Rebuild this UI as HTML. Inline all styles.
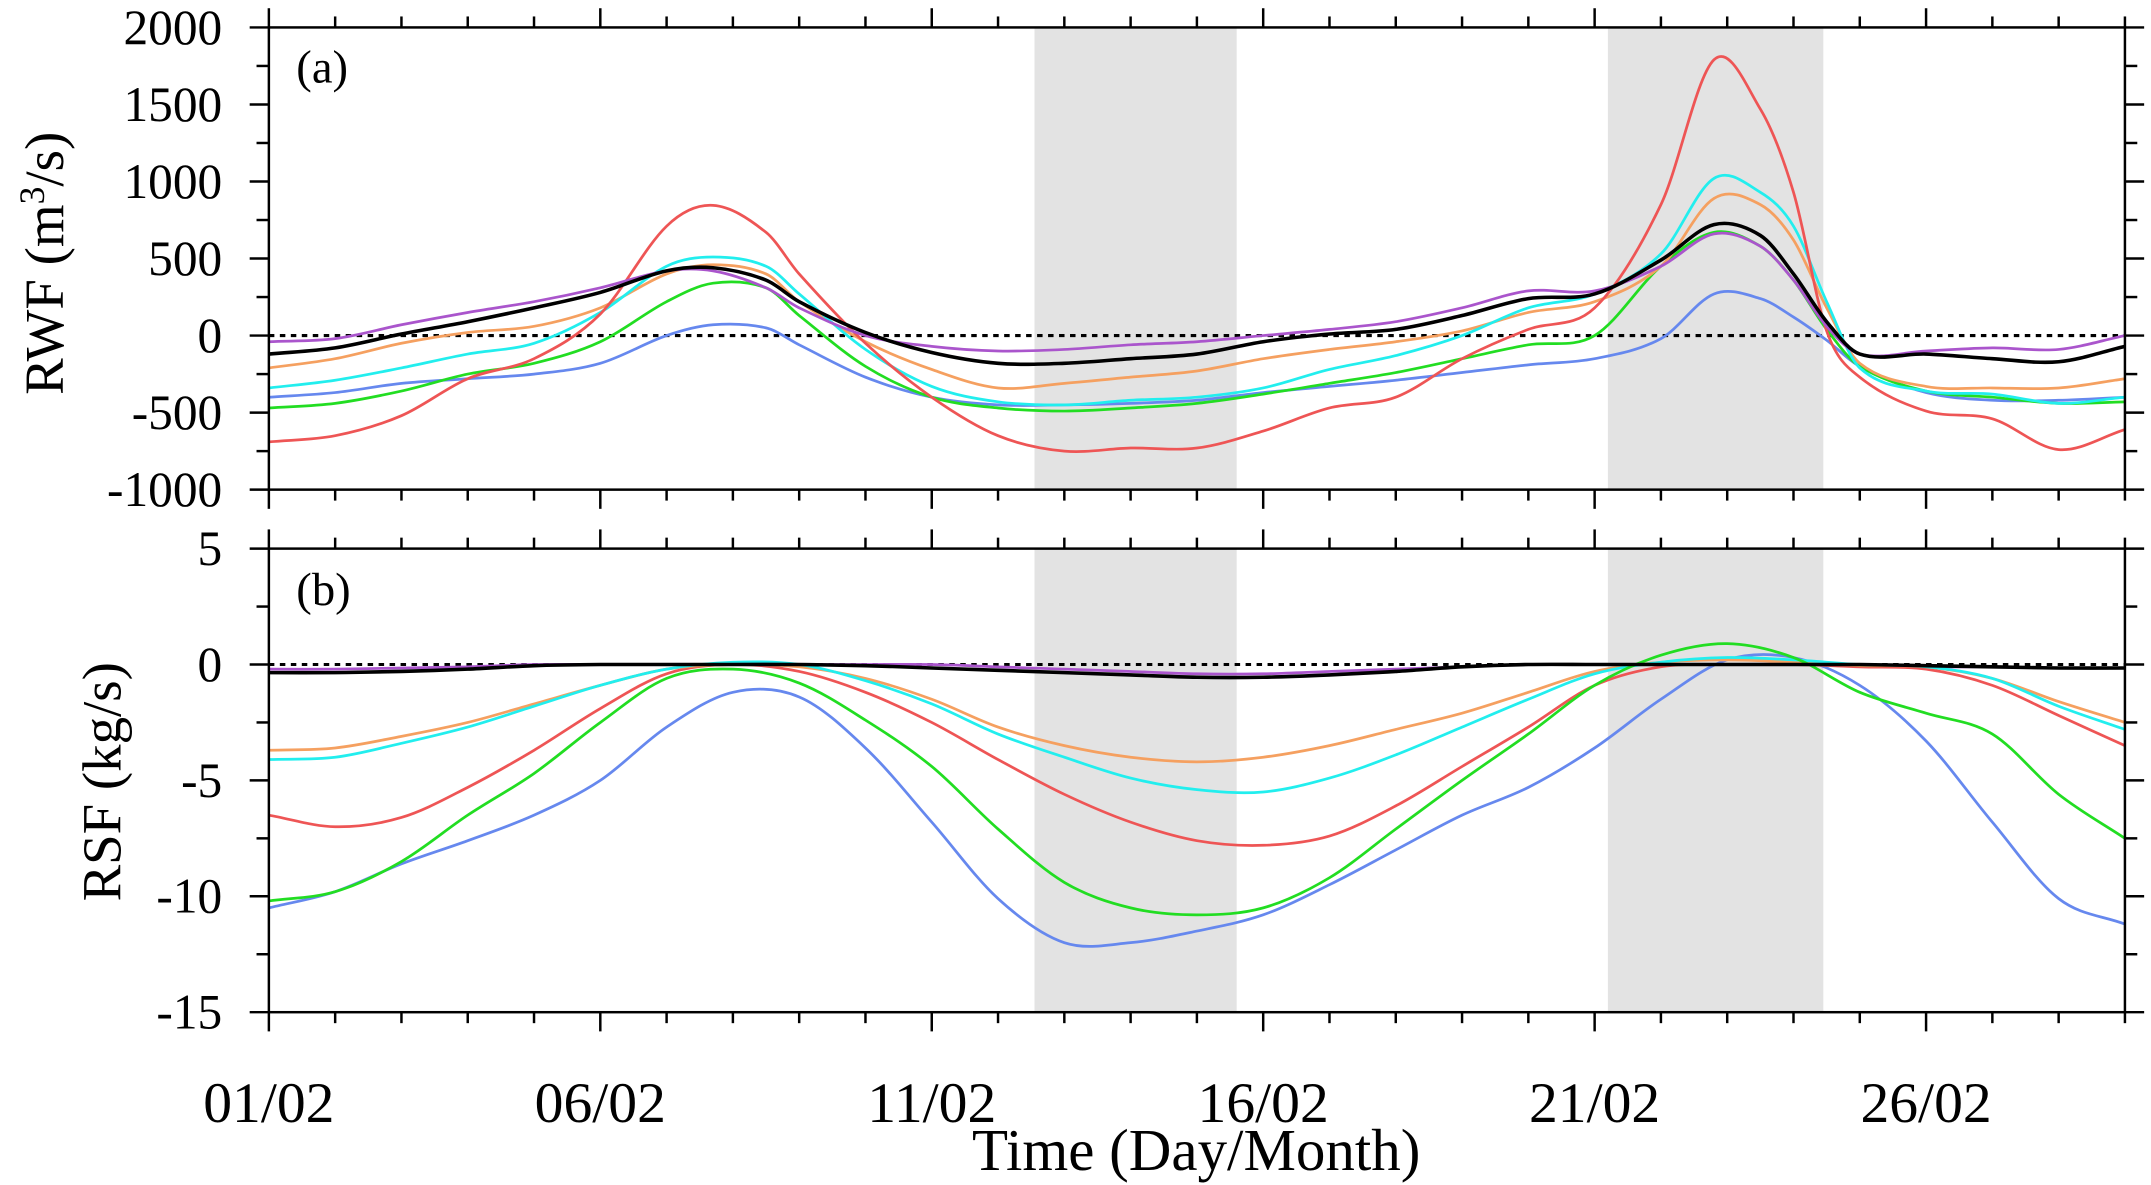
<!DOCTYPE html>
<html><head><meta charset="utf-8"><style>
html,body{margin:0;padding:0;background:#fff;}
svg{display:block;}
text{font-family:"Liberation Serif",serif;fill:#000;}
</style></head><body>
<svg id="chart" width="2151" height="1185" viewBox="0 0 1568 864" preserveAspectRatio="none" xmlns="http://www.w3.org/2000/svg">
<g id="shade"></g>
<g id="series"></g>
<g id="axes"></g>
<g id="labels"></g>
</svg>
<script>
const daysA=[0,1,2,3,4,5,6,6.7,7.5,8,9,10,11,12,13,14,15,16,17,18,19,20,21,21.8,22.5,23,23.5,24,25,26,27,28];
const rwfRed=[-690,-650,-520,-280,-150,140,710,845,670,400,-50,-400,-650,-750,-730,-730,-620,-470,-400,-150,40,180,850,1790,1470,930,30,-270,-490,-540,-740,-610];
const rwfOrange=[-210,-150,-50,20,60,180,400,460,400,220,-40,-220,-340,-310,-270,-230,-150,-90,-40,30,150,220,450,890,850,620,180,-180,-330,-340,-340,-280];
const rwfCyan=[-340,-290,-210,-120,-50,150,450,510,450,270,-90,-330,-430,-450,-420,-400,-340,-220,-130,0,180,270,530,1020,930,710,220,-210,-360,-380,-440,-400];
const rwfGreen=[-470,-440,-360,-250,-180,-40,220,340,310,130,-200,-400,-470,-490,-470,-440,-380,-310,-240,-150,-60,0,450,670,580,360,40,-200,-360,-400,-440,-430];
const rwfBlue=[-400,-370,-310,-280,-250,-180,0,70,50,-60,-270,-400,-450,-450,-440,-420,-370,-330,-290,-240,-190,-150,-20,270,240,120,-30,-200,-370,-420,-420,-400];
const rwfPurple=[-40,-20,70,150,220,310,420,420,310,180,0,-70,-100,-90,-60,-40,0,40,90,180,290,290,450,660,580,360,60,-120,-100,-80,-90,0];
const rwfBlack=[-120,-80,10,90,180,280,420,440,360,220,20,-110,-180,-180,-150,-120,-40,10,40,130,240,270,490,720,650,400,90,-120,-120,-150,-170,-70];

const daysB=[0,1,2,3,4,5,6,7,8,9,10,11,12,13,14,15,16,17,18,19,20,21,22,23,24,25,26,27,28];
const rsfRed=[-6.5,-7.0,-6.6,-5.3,-3.7,-1.9,-0.4,0,-0.3,-1.2,-2.5,-4.1,-5.6,-6.8,-7.6,-7.8,-7.4,-6.1,-4.4,-2.7,-0.9,-0.1,0,0,-0.1,-0.2,-0.9,-2.2,-3.5];
const rsfOrange=[-3.7,-3.6,-3.1,-2.5,-1.7,-0.9,-0.2,0,-0.1,-0.6,-1.5,-2.7,-3.5,-4.0,-4.2,-4.0,-3.5,-2.8,-2.1,-1.2,-0.3,0.1,0.2,0.1,-0.05,-0.1,-0.6,-1.6,-2.5];
const rsfCyan=[-4.1,-4.0,-3.4,-2.7,-1.8,-0.9,-0.2,0.1,0,-0.7,-1.7,-3.0,-4.0,-4.9,-5.4,-5.5,-4.9,-3.9,-2.7,-1.5,-0.4,0.1,0.3,0.2,0,-0.1,-0.6,-1.8,-2.8];
const rsfGreen=[-10.2,-9.8,-8.5,-6.5,-4.7,-2.5,-0.6,-0.2,-0.8,-2.4,-4.4,-7.1,-9.4,-10.5,-10.8,-10.5,-9.2,-7.1,-5.0,-3.0,-0.9,0.4,0.9,0.3,-1.2,-2.1,-3.0,-5.6,-7.5];
const rsfBlue=[-10.5,-9.8,-8.6,-7.6,-6.5,-5.0,-2.7,-1.2,-1.4,-3.6,-6.8,-10.1,-12.0,-12.0,-11.5,-10.8,-9.5,-8.0,-6.5,-5.3,-3.6,-1.5,0.2,0.3,-0.9,-3.3,-6.8,-10.1,-11.2];
const rsfPurple=[-0.2,-0.2,-0.15,-0.1,0,0,0,0,0,0,0,-0.1,-0.2,-0.3,-0.4,-0.4,-0.3,-0.2,-0.1,0,0,0,0,0,0,-0.1,-0.1,-0.15,-0.15];
const rsfBlack=[-0.35,-0.35,-0.3,-0.2,-0.05,0,0,0,0,-0.05,-0.15,-0.25,-0.35,-0.45,-0.55,-0.55,-0.45,-0.3,-0.1,0,0,0,0,0,0,-0.05,-0.1,-0.15,-0.15];

const shadeRanges=[[11.55,14.6],[20.2,23.45]];
const xTickLabels=["01/02","06/02","11/02","16/02","21/02","26/02"];
const yTicksA=[2000,1500,1000,500,0,-500,-1000];
const yTicksB=[5,0,-5,-10,-15];

const NS="http://www.w3.org/2000/svg";
const X0=196,X1=1549,DMAX=28;
const A={top:20,bot:357,min:-1000,max:2000,minor:250};
const B={top:400,bot:738,min:-15,max:5,minor:2.5};
function xs(d){return X0+(X1-X0)*d/DMAX;}
function ys(p,v){return p.bot-(v-p.min)/(p.max-p.min)*(p.bot-p.top);}
function mk(tag,attrs,parent){const e=document.createElementNS(NS,tag);for(const k in attrs)e.setAttribute(k,attrs[k]);parent.appendChild(e);return e;}
function smooth(pts){const n=pts.length,m=[];
 for(let i=0;i<n;i++){const a=pts[Math.max(0,i-1)],b=pts[Math.min(n-1,i+1)];m.push((b[1]-a[1])/(b[0]-a[0]));}
 let d="M"+pts[0][0].toFixed(2)+","+pts[0][1].toFixed(2);
 for(let i=0;i<n-1;i++){const p1=pts[i],p2=pts[i+1],dx=p2[0]-p1[0];
  d+="C"+(p1[0]+dx/3).toFixed(2)+","+(p1[1]+m[i]*dx/3).toFixed(2)+" "+(p2[0]-dx/3).toFixed(2)+","+(p2[1]-m[i+1]*dx/3).toFixed(2)+" "+p2[0].toFixed(2)+","+p2[1].toFixed(2);}
 return d;}
const gS=document.getElementById('shade'),gL=document.getElementById('series'),gA=document.getElementById('axes'),gT=document.getElementById('labels');
[A,B].forEach((p,pi)=>{shadeRanges.forEach((r,ri)=>{
 const el=mk('rect',{x:xs(r[0]),y:p.top,width:xs(r[1])-xs(r[0]),height:p.bot-p.top,fill:'#e3e3e3'},gS);
 
 
});});
[A,B].forEach((p,pi)=>{const el=mk('line',{x1:X0,x2:X1,y1:ys(p,0),y2:ys(p,0),stroke:'#000','stroke-width':2.2,'stroke-dasharray':'4 4'},gL);
 
 });
const cols={red:'#ee5555',orange:'#f5a060',cyan:'#22eeee',green:'#22dd22',blue:'#6688ee',purple:'#aa55cc',black:'#000'};
const seriesA=[['blue',rwfBlue],['green',rwfGreen],['orange',rwfOrange],['cyan',rwfCyan],['red',rwfRed],['purple',rwfPurple],['black',rwfBlack]];
const seriesB=[['purple',rsfPurple],['blue',rsfBlue],['red',rsfRed],['orange',rsfOrange],['cyan',rsfCyan],['green',rsfGreen],['black',rsfBlack]];
seriesA.forEach(s=>{const el=mk('path',{d:smooth(daysA.map((d,i)=>[xs(d),ys(A,s[1][i])])),fill:'none',stroke:cols[s[0]],'stroke-width':s[0]=='black'?2.6:2},gL);
 
 });
seriesB.forEach(s=>{const el=mk('path',{d:smooth(daysB.map((d,i)=>[xs(d),ys(B,s[1][i])])),fill:'none',stroke:cols[s[0]],'stroke-width':s[0]=='black'?2.6:2},gL);
 
 });
[A,B].forEach((p,pi)=>{
 const fr=mk('rect',{x:X0,y:p.top,width:X1-X0,height:p.bot-p.top,fill:'none',stroke:'#000','stroke-width':1.8},gA);
 
 
 for(let d=0;d<=DMAX;d++){const maj=d%5==0,L=maj?14:8;
  mk('line',{x1:xs(d),x2:xs(d),y1:p.top,y2:p.top-L,stroke:'#000','stroke-width':1.8},gA);
  mk('line',{x1:xs(d),x2:xs(d),y1:p.bot,y2:p.bot+L,stroke:'#000','stroke-width':1.8},gA);}
 for(let v=p.min;v<=p.max+1e-9;v+=p.minor){const maj=Math.abs(v/(p.minor*2)-Math.round(v/(p.minor*2)))<1e-6,L=maj?14:9;
  mk('line',{x1:X0,x2:X0-L,y1:ys(p,v),y2:ys(p,v),stroke:'#000','stroke-width':1.8},gA);
  mk('line',{x1:X1,x2:X1+L,y1:ys(p,v),y2:ys(p,v),stroke:'#000','stroke-width':1.8},gA);}
});
yTicksA.forEach(v=>{const t=mk('text',{x:162,y:ys(A,v)+12,'text-anchor':'end','font-size':36},gT);t.textContent=v;
 
 });
yTicksB.forEach(v=>{const t=mk('text',{x:162,y:ys(B,v)+12,'text-anchor':'end','font-size':36},gT);t.textContent=v;
 
 });
xTickLabels.forEach((l,i)=>{const t=mk('text',{x:xs(i*5),y:818,'text-anchor':'middle','font-size':42},gT);t.textContent=l;
 
 });
</script>
<svg style="position:absolute;left:0;top:0" width="2151" height="1185" viewBox="0 0 1568 864" preserveAspectRatio="none" xmlns="http://www.w3.org/2000/svg">
<text x="216" y="60" font-size="34">(a)</text>
<text x="216" y="441" font-size="34">(b)</text>
<text transform="translate(46,192) rotate(-90)" text-anchor="middle" font-size="40">RWF (m<tspan dy="-14" font-size="26">3</tspan><tspan dy="14">/s)</tspan></text>
<text transform="translate(88,570) rotate(-90)" text-anchor="middle" font-size="40">RSF (kg/s)</text>
<text x="872" y="853" text-anchor="middle" font-size="43">Time (Day/Month)</text>
</svg>
</body></html>
